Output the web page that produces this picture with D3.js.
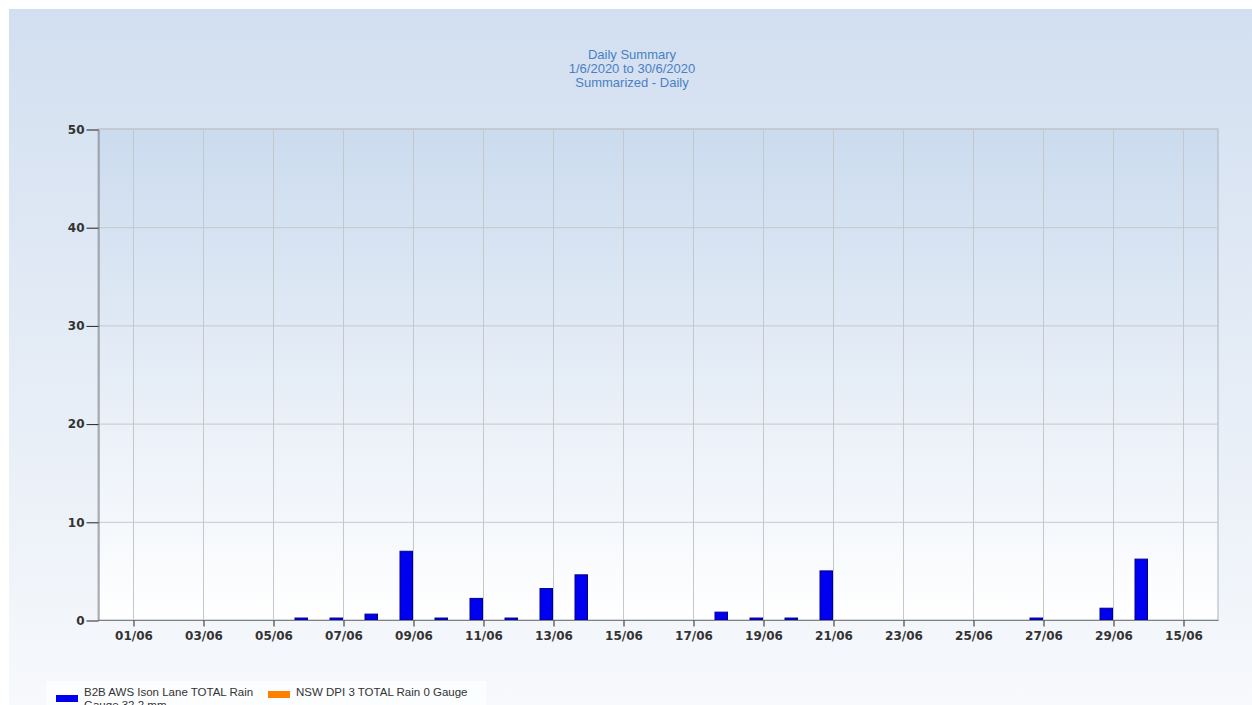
<!DOCTYPE html>
<html lang="en">
<head>
  <meta charset="UTF-8">
  <title>Daily Summary</title>
  <script src="https://d3js.org/d3.v7.min.js"></script>
  <style>
    * { margin: 0; padding: 0; box-sizing: border-box; }
    body { width: 1252px; height: 705px; background: #fff; overflow: hidden; }
    svg { display: block; }
  </style>
</head>
<body>
  <div id="chart"></div>

  <script>
    // Chart data (rain in mm, bar ends at the given day)
    const days = ['2020-06-01','2020-06-02','2020-06-03','2020-06-04','2020-06-05','2020-06-06',
      '2020-06-07','2020-06-08','2020-06-09','2020-06-10','2020-06-11','2020-06-12','2020-06-13',
      '2020-06-14','2020-06-15','2020-06-16','2020-06-17','2020-06-18','2020-06-19','2020-06-20',
      '2020-06-21','2020-06-22','2020-06-23','2020-06-24','2020-06-25','2020-06-26','2020-06-27',
      '2020-06-28','2020-06-29','2020-06-30'];
    const rainB2B = [0, 0, 0, 0, 0, 0.2, 0.2, 0.6, 7.0, 0.2, 2.2, 0.2, 3.2, 4.6, 0,
      0, 0, 0.8, 0.2, 0.2, 5.0, 0, 0, 0, 0, 0, 0.2, 0, 1.2, 6.2];
    const tickDates = ['2020-06-01','2020-06-03','2020-06-05','2020-06-07','2020-06-09','2020-06-11',
      '2020-06-13','2020-06-15','2020-06-17','2020-06-19','2020-06-21','2020-06-23','2020-06-25',
      '2020-06-27','2020-06-29','2020-07-01'];
    const tickLabels = ['01/06','03/06','05/06','07/06','09/06','11/06','13/06','15/06','17/06',
      '19/06','21/06','23/06','25/06','27/06','29/06','15/06'];
    const yTicks = [0, 10, 20, 30, 40, 50];
    const titleLines = ['Daily Summary', '1/6/2020 to 30/6/2020', 'Summarized - Daily'];
    const legendItems = [
      { lines: ['B2B AWS Ison Lane TOTAL Rain', 'Gauge 32.2 mm'], color: '#0000f0' },
      { lines: ['NSW DPI 3 TOTAL Rain 0 Gauge'], color: '#ff8000' }
    ];

    const width = 1252;
    const height = 705;
    const plot = { left: 98, right: 1218, top: 129, bottom: 620 };
    const parse = d3.utcParse('%Y-%m-%d');

    const svg = d3.select('#chart')
      .append('svg')
      .attr('width', width)
      .attr('height', height);

    // gradients
    const defs = svg.append('defs');
    const bg = defs.append('linearGradient').attr('id', 'bg').attr('x1', 0).attr('y1', 0).attr('x2', 0).attr('y2', 1);
    bg.append('stop').attr('offset', '0%').attr('stop-color', '#d2dff0');
    bg.append('stop').attr('offset', '100%').attr('stop-color', '#f7f9fc');
    const pg = defs.append('linearGradient').attr('id', 'pg').attr('x1', 0).attr('y1', 0).attr('x2', 0).attr('y2', 1);
    pg.append('stop').attr('offset', '0%').attr('stop-color', '#cbdbee');
    pg.append('stop').attr('offset', '100%').attr('stop-color', '#ffffff');

    svg.append('rect')
      .attr('x', 9).attr('y', 9)
      .attr('width', width - 9).attr('height', height - 9)
      .attr('fill', 'url(#bg)');

    // scales
    const x = d3.scaleUtc()
      .domain([parse('2020-05-31'), parse('2020-07-02')])
      .range([plot.left, plot.right]);
    const y = d3.scaleLinear()
      .domain([0, 50])
      .range([plot.bottom, plot.top]);

    svg.append('rect')
      .attr('x', plot.left).attr('y', plot.top)
      .attr('width', plot.right - plot.left).attr('height', plot.bottom - plot.top)
      .attr('fill', 'url(#pg)')
      .attr('stroke', '#a9b4c0');

    // grid
    svg.append('g')
      .selectAll('line.v')
      .data(tickDates.map(parse))
      .join('line')
      .attr('x1', d => x(d) + 0.5).attr('x2', d => x(d) + 0.5)
      .attr('y1', plot.top).attr('y2', plot.bottom)
      .attr('stroke', '#c4c8cc');

    svg.append('g')
      .selectAll('line.h')
      .data(yTicks.slice(1))
      .join('line')
      .attr('x1', plot.left).attr('x2', plot.right)
      .attr('y1', d => y(d) + 0.5).attr('y2', d => y(d) + 0.5)
      .attr('stroke', '#c4c8cc');

    // bars
    const barW = 13.5;
    svg.append('g')
      .selectAll('rect')
      .data(days.map((d, i) => ({ date: parse(d), v: rainB2B[i] })).filter(d => d.v > 0))
      .join('rect')
      .attr('x', d => x(d.date) - barW + 0.5)
      .attr('y', d => y(d.v))
      .attr('width', barW - 1)
      .attr('height', d => y(0) - y(d.v))
      .attr('fill', '#0000f0')
      .attr('stroke', '#00008a')
      .attr('stroke-width', 1);

    // axes
    const xAxis = d3.axisBottom(x)
      .tickValues(tickDates.map(parse))
      .tickFormat((d, i) => tickLabels[i])
      .tickSize(6)
      .tickSizeOuter(0)
      .tickPadding(5);
    const gx = svg.append('g')
      .attr('transform', `translate(0.5,${plot.bottom + 0.5})`)
      .call(xAxis);
    gx.select('.domain').attr('stroke', '#808080').attr('d', `M${plot.left - 0.5},0H${plot.right}`);
    gx.selectAll('.tick line').attr('stroke', '#222');
    gx.selectAll('.tick text')
      .attr('font-family', 'DejaVu Sans, sans-serif')
      .attr('font-size', 12).attr('font-weight', 'bold').attr('fill', '#333');

    const yAxis = d3.axisLeft(y)
      .tickValues(yTicks)
      .tickSize(12)
      .tickSizeOuter(0)
      .tickPadding(2);
    const gy = svg.append('g')
      .attr('transform', `translate(${plot.left + 0.5},0.5)`)
      .call(yAxis);
    gy.select('.domain').attr('stroke', '#808080');
    gy.selectAll('.tick line').attr('stroke', '#222');
    gy.selectAll('.tick text')
      .attr('font-family', 'DejaVu Sans, sans-serif')
      .attr('font-size', 12).attr('font-weight', 'bold').attr('fill', '#333');

    // title
    svg.append('g')
      .selectAll('text')
      .data(titleLines)
      .join('text')
      .attr('x', 632)
      .attr('y', (d, i) => 59 + i * 14)
      .attr('text-anchor', 'middle')
      .attr('font-family', 'Liberation Sans, Arial, sans-serif')
      .attr('font-size', 13)
      .attr('fill', '#4a7fc4')
      .text(d => d);

    // legend
    svg.append('rect')
      .attr('x', 46).attr('y', 681)
      .attr('width', 440).attr('height', 30)
      .attr('fill', '#fcfdfe');

    const legendX = [56, 268];
    const leg = svg.append('g')
      .selectAll('g')
      .data(legendItems)
      .join('g')
      .attr('transform', (d, i) => `translate(${legendX[i]},0)`);
    leg.append('rect')
      .attr('x', 0)
      .attr('y', d => d.lines.length > 1 ? 695 : 691)
      .attr('width', 22).attr('height', 7)
      .attr('fill', d => d.color);
    leg.each(function (d) {
      d3.select(this).selectAll('text')
        .data(d.lines)
        .join('text')
        .attr('x', 28)
        .attr('y', (t, j) => 696 + j * 13)
        .attr('font-family', 'Liberation Sans, Arial, sans-serif')
        .attr('font-size', 11.5)
        .attr('fill', '#333')
        .text(t => t);
    });
  </script>
</body>
</html>
